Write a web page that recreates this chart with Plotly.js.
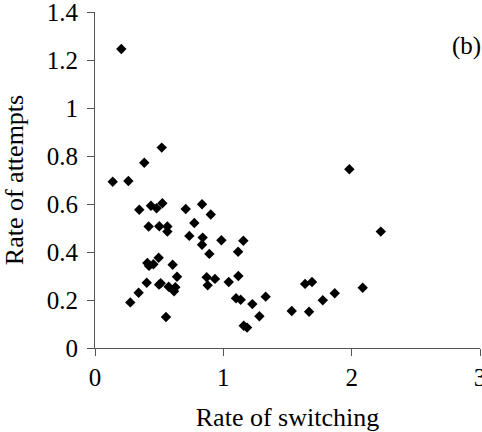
<!DOCTYPE html>
<html>
<head>
<meta charset="utf-8">
<script src="https://cdn.plot.ly/plotly-3.0.1.min.js"></script>
<style>html,body{margin:0;padding:0;background:#fff;}#chart{width:482px;height:432px;}</style>
</head>
<body>
<div id="chart"></div>
<script>
const switchingRate = [0.205,0.52,0.384,0.138,0.26,0.345,0.436,0.48,0.525,0.707,0.834,0.902,0.774,0.418,0.501,0.564,0.564,0.735,0.839,0.834,0.985,1.156,1.115,0.891,0.496,0.408,0.421,0.455,0.605,0.639,0.87,0.935,1.117,0.403,0.499,0.512,0.574,0.626,0.616,0.878,1.042,0.34,0.275,0.553,1.099,1.135,1.226,1.33,1.281,1.159,1.185,1.982,2.227,1.637,1.691,2.086,1.868,1.775,1.533,1.668];
const attemptsRate = [1.246,0.835,0.772,0.693,0.696,0.576,0.593,0.582,0.603,0.579,0.599,0.556,0.521,0.506,0.507,0.506,0.485,0.467,0.46,0.43,0.449,0.447,0.401,0.392,0.376,0.354,0.342,0.349,0.347,0.297,0.295,0.288,0.3,0.272,0.264,0.27,0.255,0.253,0.236,0.261,0.275,0.23,0.19,0.129,0.207,0.201,0.183,0.214,0.132,0.093,0.085,0.745,0.485,0.267,0.275,0.251,0.228,0.199,0.154,0.151];
const xTicks = [0,1,2,3];
const yTicks = [0,0.2,0.4,0.6,0.8,1,1.2,1.4];
const yTickText = ['0','0.2','0.4','0.6','0.8','1','1.2','1.4'];

const fontFam = 'Liberation Serif, Times New Roman, serif';
const trace = {
  x: switchingRate, y: attemptsRate, type: 'scatter', mode: 'markers',
  marker: {symbol: 'diamond', size: 8, color: '#000'},
  hoverinfo: 'skip', cliponaxis: false
};
const axisCommon = {
  showgrid: false, zeroline: false, showline: true, linecolor: '#555', linewidth: 1,
  ticks: 'outside', ticklen: 7, tickcolor: '#555', tickwidth: 1,
  ticklabeloverflow: 'allow',
  tickfont: {family: fontFam, size: 25, color: '#000'}
};
const layout = {
  width: 482, height: 432,
  margin: {l: 95, r: 2, t: 12, b: 84},
  paper_bgcolor: '#fff', plot_bgcolor: '#fff',
  showlegend: false,
  xaxis: Object.assign({}, axisCommon, {
    range: [0, 3], tickmode: 'array', tickvals: xTicks, ticktext: xTicks.map(String),
    automargin: 'bottom',
    title: {text: 'Rate of switching', font: {family: fontFam, size: 26, color: '#000'}, standoff: 18}
  }),
  yaxis: Object.assign({}, axisCommon, {
    range: [0, 1.4], tickmode: 'array', tickvals: yTicks, ticktext: yTickText,
    automargin: 'left',
    ticklabelstandoff: 4,
    title: {text: 'Rate of attempts', font: {family: fontFam, size: 26, color: '#000'}, standoff: 20}
  }),
  annotations: [{
    text: '(b)', xref: 'paper', yref: 'paper', x: 0.965, y: 0.899,
    xanchor: 'center', yanchor: 'middle',
    showarrow: false, font: {family: fontFam, size: 25, color: '#000'}
  }]
};
Plotly.newPlot('chart', [trace], layout, {displayModeBar: false, staticPlot: true});
</script>
</body>
</html>
